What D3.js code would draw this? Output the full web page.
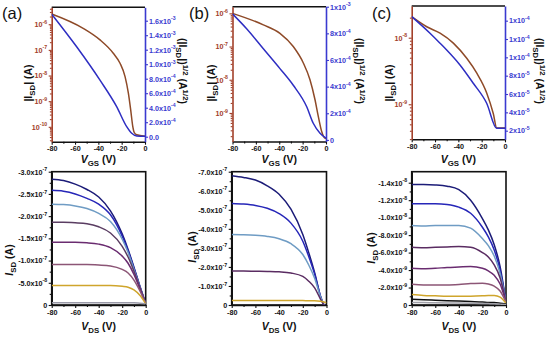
<!DOCTYPE html>
<html>
<head>
<meta charset="utf-8">
<script src="https://cdn.jsdelivr.net/npm/d3@7"></script>
<style>
  body { margin: 0; background: #fff; }
  text { font-family: "Liberation Sans", Arial, sans-serif; }
</style>
</head>
<body>
<svg id="fig" width="550" height="339"></svg>
<script>
// ---- data ----
const vMajor = [-80, -60, -40, -20, 0];
const vMinor = [-70, -50, -30, -10];

// transfer curves: [V_GS, value]
const trA_id = [[-80,2.5e-6],[-53,6.9e-7],[-38.6,2.45e-7],[-27.2,7.4e-8],[-21.4,3.0e-8],[-17.1,9.1e-9],[-14.3,2.1e-9],[-12.3,4.7e-10],[-10.5,1.05e-10],[-9.2,6.0e-11],[-7.1,4.9e-11],[0,4.3e-11]];
const trA_sq = [[-80,1.69e-3],[-58.6,1.24e-3],[-38.6,0.78e-3],[-24.3,0.414e-3],[-15.7,0.138e-3],[-11.4,0.047e-3],[-7.1,0.01e-3],[0,0.005e-3]];
const trB_id = [[-80,1.0e-6],[-53.6,4.5e-7],[-39.4,2.5e-7],[-28,1.0e-7],[-19.4,3.2e-8],[-13.7,1.0e-8],[-9.4,2.5e-9],[-6.6,7.9e-10],[-3.7,2.75e-10],[-0.9,1.74e-10],[0,1.7e-10]];
const trB_sq = [[-80,0.946e-3],[-67.9,0.834e-3],[-53.6,0.684e-3],[-39.4,0.535e-3],[-28,0.41e-3],[-16.5,0.249e-3],[-10.9,0.125e-3],[-5.1,0.05e-3],[0,0.013e-3]];
const trC_id = [[-80,2.07e-8],[-67.1,1.46e-8],[-55.7,1.17e-8],[-44.3,8.3e-9],[-32.8,4.9e-9],[-24.3,2.95e-9],[-15.7,1.48e-9],[-10,7.2e-10],[-7.1,4.4e-10],[0,4.4e-10]];
const trC_sq = [[-80,14.44e-5],[-64.3,12.63e-5],[-55.7,11.54e-5],[-50,10.8e-5],[-38.6,9.17e-5],[-27.2,7.17e-5],[-15.7,4.99e-5],[-7.1,2.26e-5],[0,2.26e-5]];

const logTicksA = [1e-6, 1e-7, 1e-8, 1e-9, 1e-10];
const logLabelsA = ["10^-6", "10^-7", "10^-8", "10^-9", "10^-10"];
const logTicksB = [1e-6, 1e-7, 1e-8, 1e-9];
const logLabelsB = ["10^-6", "10^-7", "10^-8", "10^-9"];
const logTicksC = [1e-8, 1e-9];
const logLabelsC = ["10^-8", "10^-9"];

const sqTicksA = [0, 2e-4, 4e-4, 6e-4, 8e-4, 1.0e-3, 1.2e-3, 1.4e-3, 1.6e-3];
const sqLabelsA = ["0.0", "2.0x10^-4", "4.0x10^-4", "6.0x10^-4", "8.0x10^-4", "1.0x10^-3", "1.2x10^-3", "1.4x10^-3", "1.6x10^-3"];
const sqTicksB = [0, 2e-4, 4e-4, 6e-4, 8e-4, 1e-3];
const sqLabelsB = ["0", "2x10^-4", "4x10^-4", "6x10^-4", "8x10^-4", "1x10^-3"];
const sqTicksC = [2e-5, 4e-5, 6e-5, 8e-5, 1.0e-4, 1.2e-4, 1.4e-4];
const sqLabelsC = ["2x10^-5", "4x10^-5", "6x10^-5", "8x10^-5", "1x10^-4", "1x10^-4", "1x10^-4"];

// output curves: I_SD (in unit) at each V_DS of vdsGrid
const vdsGrid = [-80, -70, -60, -50, -40, -30, -20, -15, -10, -5, 0];
const outA_unit = -1e-7;
const outA = [
  [2.83,2.80,2.72,2.60,2.43,2.12,1.60,1.25,0.85,0.43,0.03],
  [2.58,2.56,2.50,2.40,2.27,2.03,1.55,1.22,0.83,0.42,0.03],
  [2.27,2.26,2.23,2.17,2.06,1.88,1.48,1.18,0.80,0.41,0.03],
  [1.86,1.86,1.85,1.83,1.76,1.62,1.32,1.08,0.76,0.40,0.03],
  [1.41,1.41,1.41,1.40,1.37,1.29,1.10,0.94,0.69,0.37,0.03],
  [0.91,0.91,0.91,0.91,0.90,0.88,0.80,0.72,0.56,0.32,0.03],
  [0.44,0.44,0.44,0.44,0.44,0.44,0.42,0.40,0.34,0.22,0.03],
  [0.05,0.05,0.05,0.05,0.05,0.05,0.05,0.05,0.05,0.04,0.03]
];
const outA_colors = ["#1c1c78", "#2626b8", "#6f9cc4", "#5a3d62", "#6a2c70", "#8c5676", "#cfa52c", "#9a9aa8"];
const outA_ticks = [0, -0.5e-7, -1.0e-7, -1.5e-7, -2.0e-7, -2.5e-7, -3.0e-7];
const outA_labels = ["0", "-5.0x10^-8", "-1.0x10^-7", "-1.5x10^-7", "-2.0x10^-7", "-2.5x10^-7", "-3.0x10^-7"];

const outB_unit = -1e-7;
const outB = [
  [6.79,6.70,6.56,6.26,5.82,5.03,3.70,2.75,1.70,0.45,-0.3],
  [5.33,5.30,5.23,5.08,4.80,4.30,3.35,2.55,1.62,0.45,-0.3],
  [3.70,3.69,3.66,3.60,3.48,3.22,2.65,2.10,1.40,0.42,-0.25],
  [1.78,1.78,1.77,1.76,1.74,1.68,1.50,1.25,0.90,0.30,-0.2],
  [0.23,0.23,0.23,0.23,0.23,0.23,0.23,0.22,0.22,0.20,0.12]
];
const outB_colors = ["#1c1c78", "#2626b8", "#6f9cc4", "#5a2c62", "#cfa52c"];
const outB_ticks = [0, -1e-7, -2e-7, -3e-7, -4e-7, -5e-7, -6e-7, -7e-7];
const outB_labels = ["0", "-1.0x10^-7", "-2.0x10^-7", "-3.0x10^-7", "-4.0x10^-7", "-5.0x10^-7", "-6.0x10^-7", "-7.0x10^-7"];

const outC_unit = -1e-9;
const outC = [
  [13.8,13.8,13.75,13.6,13.2,12.0,9.9,8.6,6.9,4.4,0.3],
  [11.6,11.6,11.6,11.5,11.2,10.5,8.9,7.8,6.3,4.0,0.3],
  [9.1,9.05,9.1,9.1,9.1,8.8,7.6,6.8,5.6,3.6,0.3],
  [6.6,6.55,6.6,6.65,6.7,6.6,6.0,5.5,4.6,3.1,0.3],
  [4.2,4.15,4.2,4.3,4.35,4.4,4.2,3.9,3.4,2.4,0.3],
  [2.37,2.3,2.3,2.3,2.35,2.45,2.5,2.4,2.15,1.6,0.3],
  [1.2,1.1,1.05,1.0,1.0,1.0,1.05,1.1,1.1,0.9,0.2],
  [0.65,0.6,0.55,0.5,0.45,0.4,0.35,0.3,0.28,0.2,0.1],
  [0.3,0.28,0.26,0.24,0.22,0.2,0.18,0.16,0.14,0.1,0.05]
];
const outC_colors = ["#1c1c78", "#2626b8", "#6f9cc4", "#5a2c62", "#6a2c70", "#8c5676", "#cfa52c", "#111111", "#a0a0a8"];
const outC_ticks = [0, -2e-9, -4e-9, -6e-9, -8e-9, -1.0e-8, -1.2e-8, -1.4e-8];
const outC_labels = ["0", "-2.0x10^-9", "-4.0x10^-9", "-6.0x10^-9", "-8.0x10^-9", "-1.0x10^-8", "-1.2x10^-8", "-1.4x10^-8"];

// ---- drawing ----
const svg = d3.select("#fig");
const BROWN_AX = "#a3402a", BROWN = "#8e4a28", BLUE_AX = "#3a3ad0", BLUE = "#2e2ec2";
const TICK_FS = 7.2, TITLE_FS = 10.5;
let clipId = 0;

function supText(sel, label) {
  const parts = label.split("^");
  sel.text(parts[0]);
  if (parts.length > 1) sel.append("tspan").attr("dy", -3.2).attr("font-size", TICK_FS * 0.72).text(parts[1]);
}

function rich(textSel, parts, fs) {
  let shift = 0;
  parts.forEach(p => {
    const target = p.sub ? fs * 0.3 : p.sup ? -fs * 0.42 : 0;
    const ts = textSel.append("tspan").attr("dy", target - shift).text(p.t);
    if (p.sub || p.sup) ts.attr("font-size", fs * 0.75);
    if (p.it) ts.attr("font-style", "italic");
    shift = target;
  });
}

function styleAxis(g, color) {
  g.selectAll("path.domain").attr("stroke", color).attr("stroke-width", 1.6);
  g.selectAll(".tick line").attr("stroke", color).attr("stroke-width", 1.1);
  g.selectAll(".tick text").attr("fill", color).attr("font-size", TICK_FS).attr("font-weight", "bold");
}

function xAxes(g, x, y1, pad) {
  const gx = g.append("g").attr("transform", `translate(0,${y1})`)
    .call(d3.axisBottom(x).tickValues(vMajor).tickSize(3).tickSizeOuter(0).tickPadding(pad).tickFormat(d => String(d)));
  styleAxis(gx, "#111");
  const gm = g.append("g").attr("transform", `translate(0,${y1})`)
    .call(d3.axisBottom(x).tickValues(vMinor).tickSize(2).tickFormat(""));
  gm.select("path.domain").remove();
  styleAxis(gm, "#111");
}

function clipRect(p) {
  const id = "clip" + (clipId++);
  svg.append("clipPath").attr("id", id).append("rect")
    .attr("x", p.x0).attr("y", p.y0).attr("width", p.x1 - p.x0).attr("height", p.y1 - p.y0);
  return `url(#${id})`;
}

function transferPanel(p) {
  const g = svg.append("g");
  const x = d3.scaleLinear().domain([-80, 0]).range([p.x0, p.x1]);
  const yL = d3.scaleLog().domain(p.logDomain).range([p.y1, p.y0]);
  const yR = d3.scaleLinear().domain(p.linDomain).range([p.y1, p.y0]);

  g.append("line").attr("x1", p.x0).attr("x2", p.x1).attr("y1", p.y0).attr("y2", p.y0)
    .attr("stroke", "#111").attr("stroke-width", 1.6);
  xAxes(g, x, p.y1, 1.5);

  // left log axis
  const gl = g.append("g").attr("transform", `translate(${p.x0},0)`)
    .call(d3.axisLeft(yL).tickValues(p.logTicks).tickSize(3).tickSizeOuter(0).tickPadding(1.5).tickFormat(""));
  gl.selectAll(".tick text").each(function(d, i) { supText(d3.select(this), p.logLabels[i]); });
  styleAxis(gl, BROWN_AX);
  const minors = yL.ticks().filter(v => !p.logTicks.some(t => Math.abs(t - v) / t < 1e-6));
  const glm = g.append("g").attr("transform", `translate(${p.x0},0)`)
    .call(d3.axisLeft(yL).tickValues(minors).tickSize(1.8).tickFormat(""));
  glm.select("path.domain").remove();
  styleAxis(glm, BROWN_AX);

  // right linear axis
  const gr = g.append("g").attr("transform", `translate(${p.x1},0)`)
    .call(d3.axisRight(yR).tickValues(p.sqTicks).tickSize(3).tickSizeOuter(0).tickPadding(1).tickFormat(""));
  gr.selectAll(".tick text").each(function(d, i) { supText(d3.select(this), p.sqLabels[i]); });
  styleAxis(gr, BLUE_AX);

  const clip = clipRect(p);
  g.append("path").datum(p.idData).attr("clip-path", clip)
    .attr("fill", "none").attr("stroke", BROWN).attr("stroke-width", 1.5)
    .attr("d", d3.line().x(d => x(d[0])).y(d => yL(d[1])).curve(d3.curveMonotoneX));
  g.append("path").datum(p.sqData).attr("clip-path", clip)
    .attr("fill", "none").attr("stroke", BLUE).attr("stroke-width", 1.5)
    .attr("d", d3.line().x(d => x(d[0])).y(d => yR(d[1])).curve(d3.curveMonotoneX));

  // titles
  const lt = g.append("text").attr("transform", `translate(${p.ltX},83) rotate(-90)`)
    .attr("text-anchor", "middle").attr("font-size", TITLE_FS).attr("font-weight", "bold").attr("fill", "#111");
  rich(lt, [{t: "|I"}, {t: "SD", sub: true}, {t: "| (A)"}], TITLE_FS);
  const rt = g.append("text").attr("transform", `translate(${p.rtX},71) rotate(90)`)
    .attr("text-anchor", "middle").attr("font-size", TITLE_FS).attr("font-weight", "bold").attr("fill", "#111");
  rich(rt, [{t: "(|I"}, {t: "SD", sub: true}, {t: "|)"}, {t: "1/2", sup: true}, {t: " (A"}, {t: "1/2", sup: true}, {t: ")"}], TITLE_FS);
  const xt = g.append("text").attr("x", (p.x0 + p.x1) / 2).attr("y", 162.5)
    .attr("text-anchor", "middle").attr("font-size", TITLE_FS).attr("font-weight", "bold").attr("fill", "#111");
  rich(xt, [{t: "V", it: true}, {t: "GS", sub: true}, {t: " (V)"}], TITLE_FS);

  svg.append("text").attr("x", p.labX).attr("y", 19).attr("font-size", 16.5).attr("fill", "#111").text(p.label);
}

function outputPanel(p) {
  const g = svg.append("g");
  const x = d3.scaleLinear().domain([-80, 0]).range([p.x0, p.x1]);
  const y = d3.scaleLinear().domain([0, p.top]).range([p.y1, p.y0]);

  g.append("rect").attr("x", p.x0).attr("y", p.y0).attr("width", p.x1 - p.x0).attr("height", p.y1 - p.y0)
    .attr("fill", "none").attr("stroke", "#111").attr("stroke-width", 1.6);
  xAxes(g, x, p.y1, 2);

  const gl = g.append("g").attr("transform", `translate(${p.x0},0)`)
    .call(d3.axisLeft(y).tickValues(p.ticks).tickSize(3).tickSizeOuter(0).tickPadding(1.5).tickFormat(""));
  gl.selectAll(".tick text").each(function(d, i) { supText(d3.select(this), p.labels[i]); });
  styleAxis(gl, "#111");
  const mids = d3.pairs(p.ticks).map(([a, b]) => (a + b) / 2);
  const glm = g.append("g").attr("transform", `translate(${p.x0},0)`)
    .call(d3.axisLeft(y).tickValues(mids).tickSize(2).tickFormat(""));
  glm.select("path.domain").remove();
  styleAxis(glm, "#111");

  const clip = clipRect(p);
  const line = d3.line().x((d, i) => x(vdsGrid[i])).y(d => y(d * p.unit)).curve(d3.curveMonotoneX);
  g.selectAll("path.curve").data(p.series).join("path").attr("class", "curve")
    .attr("clip-path", clip).attr("fill", "none")
    .attr("stroke", (d, i) => p.colors[i]).attr("stroke-width", 1.5)
    .attr("d", line);

  const lt = g.append("text").attr("transform", `translate(${p.ltX},${p.ltY}) rotate(-90)`)
    .attr("text-anchor", "middle").attr("font-size", TITLE_FS).attr("font-weight", "bold").attr("fill", "#111");
  rich(lt, [{t: "I", it: true}, {t: "SD", sub: true}, {t: " (A)"}], TITLE_FS);
  const xt = g.append("text").attr("x", (p.x0 + p.x1) / 2).attr("y", 330)
    .attr("text-anchor", "middle").attr("font-size", TITLE_FS).attr("font-weight", "bold").attr("fill", "#111");
  rich(xt, [{t: "V", it: true}, {t: "DS", sub: true}, {t: " (V)"}], TITLE_FS);
}

transferPanel({x0: 51.7, x1: 145, y0: 7.3, y1: 141.7, logDomain: [Math.pow(10, -10.58), Math.pow(10, -5.34)],
  linDomain: [-0.069e-3, 1.785e-3], logTicks: logTicksA, logLabels: logLabelsA, sqTicks: sqTicksA, sqLabels: sqLabelsA,
  idData: trA_id, sqData: trA_sq, ltX: 32, rtX: 179, label: "(a)", labX: 2});
transferPanel({x0: 232.5, x1: 326, y0: 6.7, y1: 141.5, logDomain: [Math.pow(10, -9.86), Math.pow(10, -5.80)],
  linDomain: [-0.012e-3, 1.0e-3], logTicks: logTicksB, logLabels: logLabelsB, sqTicks: sqTicksB, sqLabels: sqLabelsB,
  idData: trB_id, sqData: trB_sq, ltX: 215, rtX: 356, label: "(b)", labX: 189});
transferPanel({x0: 411.7, x1: 505, y0: 6, y1: 139.3, logDomain: [Math.pow(10, -9.526), Math.pow(10, -7.524)],
  linDomain: [1.06e-5, 1.56e-4], logTicks: logTicksC, logLabels: logLabelsC, sqTicks: sqTicksC, sqLabels: sqLabelsC,
  idData: trC_id, sqData: trC_sq, ltX: 393, rtX: 536, label: "(c)", labX: 372});

outputPanel({x0: 51.7, x1: 145.7, y0: 171.7, y1: 305, top: -3.0e-7, ticks: outA_ticks, labels: outA_labels,
  series: outA, unit: outA_unit, colors: outA_colors, ltX: 13, ltY: 260});
outputPanel({x0: 231.7, x1: 326.5, y0: 171.7, y1: 305, top: -7.0e-7, ticks: outB_ticks, labels: outB_labels,
  series: outB, unit: outB_unit, colors: outB_colors, ltX: 196, ltY: 247});
outputPanel({x0: 411.7, x1: 506, y0: 171.7, y1: 305, top: -1.526e-8, ticks: outC_ticks, labels: outC_labels,
  series: outC, unit: outC_unit, colors: outC_colors, ltX: 375, ltY: 248});
</script>
</body>
</html>
